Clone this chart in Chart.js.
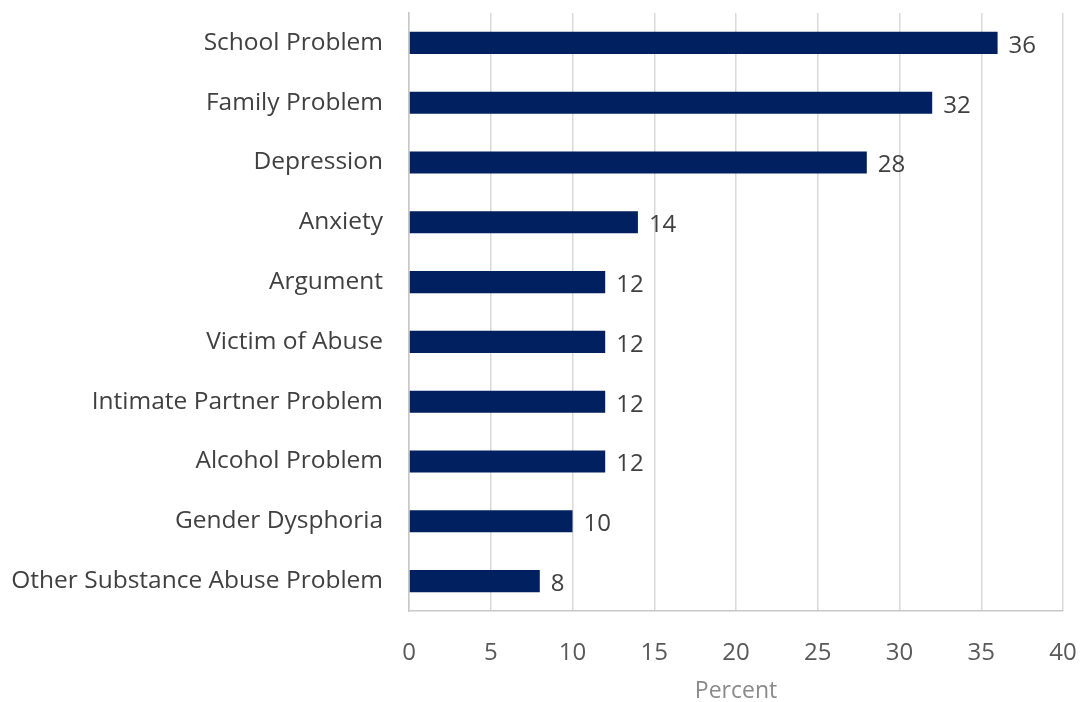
<!DOCTYPE html>
<html lang="en">
<head>
    <meta charset="UTF-8">
    <title>Percent by Problem</title>
    <script src="https://cdn.jsdelivr.net/npm/chart.js"></script>
    <style>
        html, body { margin: 0; padding: 0; background: #fff; }
        #wrap { width: 1081px; height: 702px; }
    </style>
</head>
<body>
    <div id="wrap"><canvas id="problemChart"></canvas></div>
    <script>
        const categories = [
            'School Problem',
            'Family Problem',
            'Depression',
            'Anxiety',
            'Argument',
            'Victim of Abuse',
            'Intimate Partner Problem',
            'Alcohol Problem',
            'Gender Dysphoria',
            'Other Substance Abuse Problem'
        ];
        const percentValues = [36, 32, 28, 14, 12, 12, 12, 12, 10, 8];
        const xTicks = [0, 5, 10, 15, 20, 25, 30, 35, 40];

        const fontFamily = "'Open Sans', 'Noto Sans', sans-serif";

        // draws the value just past the end of each bar
        const valueLabels = {
            id: 'valueLabels',
            afterDatasetsDraw(chart) {
                const ctx = chart.ctx;
                const meta = chart.getDatasetMeta(0);
                ctx.save();
                ctx.font = '24px ' + fontFamily;
                ctx.fillStyle = '#404040';
                ctx.textAlign = 'left';
                ctx.textBaseline = 'middle';
                meta.data.forEach((bar, i) => {
                    ctx.fillText(String(percentValues[i]), bar.x + 11, bar.y + 3);
                });
                ctx.restore();
            }
        };

        // keep the plot area where the reference has it
        function noPad(scale) {
            scale.paddingTop = 0;
            scale.paddingBottom = 0;
            scale.paddingLeft = 0;
            scale.paddingRight = 0;
        }

        new Chart(document.getElementById('problemChart'), {
            type: 'bar',
            data: {
                labels: categories,
                datasets: [{
                    label: 'Percent',
                    data: percentValues,
                    backgroundColor: '#002060',
                    borderWidth: 0,
                    barPercentage: 0.37,
                    categoryPercentage: 1
                }]
            },
            options: {
                indexAxis: 'y',
                responsive: true,
                maintainAspectRatio: false,
                animation: false,
                layout: { padding: { top: 13, right: 18, left: 0, bottom: 0 } },
                plugins: {
                    legend: { display: false },
                    tooltip: { enabled: false }
                },
                scales: {
                    x: {
                        min: 0,
                        max: 40,
                        afterBuildTicks(scale) {
                            scale.ticks = xTicks.map(v => ({ value: v }));
                        },
                        afterFit(scale) {
                            scale.height = 91;
                            noPad(scale);
                        },
                        grid: { color: '#d9d9d9', lineWidth: 1.5, drawTicks: false },
                        border: { color: '#c8c8c8', width: 1.5 },
                        ticks: {
                            color: '#595959',
                            padding: 28,
                            font: { family: fontFamily, size: 24 }
                        },
                        title: {
                            display: true,
                            text: 'Percent',
                            color: '#8a8a8a',
                            padding: { top: 5, bottom: -3 },
                            font: { family: fontFamily, size: 23 }
                        }
                    },
                    y: {
                        afterFit(scale) {
                            scale.width = 409;
                            noPad(scale);
                        },
                        grid: { display: false, drawTicks: false },
                        border: { color: '#c8c8c8', width: 1.5 },
                        ticks: {
                            color: '#404040',
                            padding: 26,
                            font: { family: fontFamily, size: 24.5 }
                        }
                    }
                }
            },
            plugins: [valueLabels]
        });
    </script>
</body>
</html>
